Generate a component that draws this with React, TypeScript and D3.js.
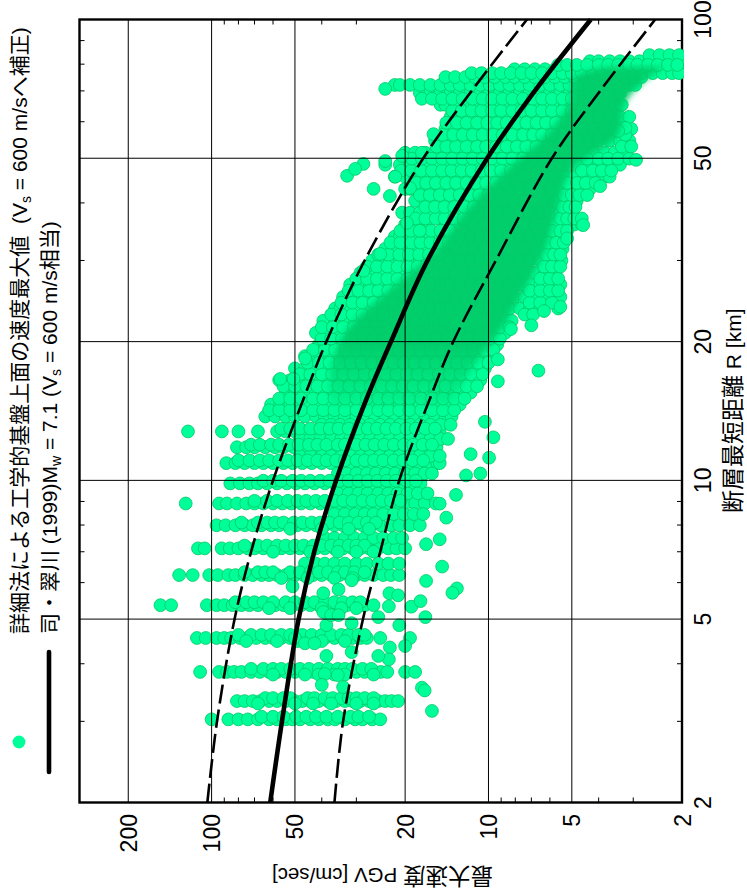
import React from "react";
import * as d3 from "d3";

// PGV attenuation scatter, the page is turned 90 degrees so R runs upward
const majorR = [2, 5, 10, 20, 50, 100];
const minorR = [3, 4, 6, 7, 8, 9, 30, 40, 60, 70, 80, 90];
const majorPgv = [2, 5, 10, 20, 50, 100, 200];
const minorPgv = [3, 4, 6, 7, 8, 9, 30, 40, 60, 70, 80, 90];

const curveR = [2, 3, 5, 7, 10, 15, 20, 30, 50, 70, 100];
const curveMid = [61.4, 55.7, 48.5, 42.6, 35.5, 27.6, 22.5, 16.6, 10.1, 6.8, 4.27];
const curveUp = [103.6, 95.6, 82.6, 72, 60, 46.6, 38.5, 28, 17.2, 11.5, 7.26];
const curveLow = [36, 33.5, 28.4, 24.6, 21, 16.3, 13.4, 9.4, 5.9, 3.95, 2.5];

// darker part of the cloud where the markers pile up
const coreR = [79, 75, 66, 56, 47, 38.5, 31.5, 26, 21, 17.3, 14.5];
const coreHigh = [3.65, 4.9, 5.1, 6.25, 8.7, 12.1, 15.6, 22.7, 32.9, 37.3, 37.3];
const coreLow = [2.3, 2.62, 3.2, 3.4, 5, 5.65, 6.25, 7.4, 9.1, 11.6, 13.7];

// each site row: distance, then the PGV values read along that row
const rowR = [
  3.03, 3.32, 3.84, 4.55, 5.36, 6.23, 7.12, 7.99, 8.91, 9.85, 10.9, 11.8, 12.77, 13.76,
  13.2, 12.3, 11.3, 10.35, 9.37, 8.45, 7.5, 6.6,
  14.6, 15.5, 16.5, 17.5, 18.6, 19.7, 20.9, 22.2, 23.6, 25, 26.6, 28.2, 30, 31.8, 33.8, 35.9,
  38.1, 40.4, 42.9, 45.6, 48.4, 51.4, 54.6, 57.9, 61.5, 65.3, 69.3, 72.1, 75, 78, 81.2, 83.7,
];
const rowPgv = [
  [100, 87, 80, 74, 68, 62, 58, 54, 51, 47.9, 44, 41, 38, 35.8, 33, 30.3, 28.5, 26.3, 24.6],
  [81, 76, 71, 66.7, 62, 58, 54, 50, 47, 44, 41, 38, 35.5, 33, 31, 29, 27, 25, 23.6, 22.4, 21.2],
  [110, 94, 88, 83, 78, 72, 67, 62, 58, 54, 50, 46.5, 43, 40, 37, 34.5, 32, 30, 28, 26, 24.5, 23.2, 20, 18.4],
  [113, 105, 96, 90, 85, 79, 74, 69, 64, 60, 56, 52, 48, 45, 42, 39, 36, 33.5, 31, 29, 27.5],
  [153, 140, 104, 96, 90, 84, 78, 73, 68, 63, 59, 55, 51, 47.5, 44, 41, 38, 35, 32.5, 30, 28, 26],
  [131, 117, 102, 95, 87, 82, 76, 71, 66, 62, 58, 54, 50, 46.5, 43, 40, 37, 34.5, 32, 30, 28, 26, 24, 22.5, 21],
  [112, 106, 92, 86, 80, 74, 70, 65, 60, 56, 52, 48, 45, 42, 39, 36, 33.5, 31, 29, 27, 25, 23, 21.5, 20],
  [96, 89, 82, 76, 71, 66, 61, 57, 53, 49, 45.5, 42, 39, 36, 33.5, 31, 28.5, 26.5, 24.5, 22.5, 21, 19.2, 17.7],
  [124, 94, 88, 81, 75, 70, 65, 60, 55.5, 51.5, 47.5, 44, 40.5, 37.5, 35, 32, 29.5, 27.5, 25.3, 23.4, 21.6, 20, 18.4, 17, 15.5],
  [85.6, 79, 73, 68, 63, 58, 53.5, 49.5, 46, 42.5, 39, 36, 33.3, 31, 28.5, 26.3, 24.3, 22.4, 20.7, 19, 17.6],
  [88.5, 82, 76, 70, 65, 60, 55, 51, 47, 43.5, 40, 37, 34, 31.5, 29, 27, 25, 23, 21, 19.5, 18, 16.5, 15.3, 15],
  [81, 75, 70, 64, 59, 55, 50.5, 46.5, 43, 40, 37, 34, 31.5, 29, 26.8, 24.8, 22.8, 21, 19.4, 18, 16.6, 15.4],
  [121.7, 91.8, 80, 68, 58, 54, 50, 46, 42.5, 39, 36, 33.5, 31, 28.5, 26.3, 24.3, 22.4, 20.7, 19, 17.6, 16.2, 15],
  [64, 59, 54, 50, 46, 42, 39, 36, 33, 30, 28, 25.7, 23.6, 21.8, 20, 18.4, 16.9, 15.6, 14.3, 13.6],
  [40, 37, 34.3, 31.6, 29.1, 26.8, 24.6, 22.7, 20.9, 19.2, 17.7, 16.2, 14.9, 13.7],
  [48, 44, 40.5, 37, 34, 31.6, 29, 26.8, 24.6, 22.7, 20.9, 19.2, 17.7, 16.2, 14.9, 14],
  [48, 44, 40, 37, 34, 31, 29, 26.8, 24.6, 22.7, 21, 19.2, 17.7, 16.2, 15],
  [35, 32.5, 30, 27.5, 25.5, 23.5, 21.7, 20, 18.4, 17, 16],
  [35, 32, 29.5, 27.3, 25, 23, 21.3, 19.6, 18, 16.6],
  [36, 33, 30.3, 28, 26, 24, 22, 20.2, 18.6, 17.2],
  [39, 36, 33, 30.5, 28, 26, 24, 22, 20.5],
  [46, 42, 39, 36, 33, 30, 27.5, 25, 23, 21],
  [61, 56.5, 52, 48, 44, 40.5, 37.3, 34.3, 31.6, 29.1, 26.8, 24.6, 22.7, 20.9, 19.2, 17.7, 16.2, 14.9, 13.7, 12.7],
  [54, 50, 46, 42, 39, 36, 33, 30.3, 28, 25.7, 23.6, 21.8, 20, 18.4, 16.9, 15.6, 14.3, 13.2, 12.1, 11.6],
  [57, 52, 48, 44, 40.5, 37.3, 34.3, 31.6, 29.1, 26.8, 24.6, 22.7, 20.9, 19.2, 17.7, 16.2, 14.9, 13.7, 12.7, 11.6, 10.7],
  [50, 46, 42, 39, 36, 33, 30.3, 28, 25.7, 23.6, 21.8, 20, 18.4, 16.9, 15.6, 14.3, 13.2, 12.1, 11.2, 10.3],
  [46, 42.5, 40.5, 37.3, 34.3, 31.6, 29.1, 26.8, 24.6, 22.7, 20.9, 19.2, 17.7, 16.2, 14.9, 13.7, 12.7, 11.6, 10.7, 9.9],
  [41, 38.9, 35.8, 32.9, 30.3, 27.9, 25.7, 23.6, 21.8, 20, 18.4, 16.9, 15.6, 14.3, 13.2, 12.1, 11.2, 10.3, 9.5, 9.3],
  [42, 37.3, 34.3, 31.6, 29.1, 26.8, 24.6, 22.7, 20.9, 19.2, 17.7, 16.2, 14.9, 13.7, 12.7, 11.6, 10.7, 9.9, 9.1, 8.7],
  [39.5, 35.8, 32.9, 30.3, 27.9, 25.7, 23.6, 21.8, 20, 18.4, 16.9, 15.6, 14.3, 13.2, 12.1, 11.2, 10.3, 9.5, 8.7, 8.25],
  [35.8, 34.3, 31.6, 29.1, 26.8, 24.6, 22.7, 20.9, 19.2, 17.7, 16.2, 14.9, 13.7, 12.7, 11.6, 10.7, 9.9, 9.1, 8.4, 7.7, 7.1, 6.5, 5.6],
  [33.5, 30.3, 27.9, 25.7, 23.6, 21.8, 20, 18.4, 16.9, 15.6, 14.3, 13.2, 12.1, 11.2, 10.3, 9.5, 8.7, 8.05, 7.4, 6.8, 6.25, 5.75, 5.5],
  [31.6, 29.1, 26.8, 24.6, 22.7, 20.9, 19.2, 17.7, 16.2, 14.9, 13.7, 12.7, 11.6, 10.7, 9.9, 9.1, 8.4, 7.7, 7.1, 6.5, 6, 5.5],
  [29, 27.9, 25.7, 23.6, 21.8, 20, 18.4, 16.9, 15.6, 14.3, 13.2, 12.1, 11.2, 10.3, 9.5, 8.7, 8.05, 7.4, 6.8, 6.25, 5.75],
  [26.3, 24.6, 22.7, 20.9, 19.2, 17.7, 16.2, 14.9, 13.7, 12.7, 11.6, 10.7, 9.9, 9.1, 8.4, 7.7, 7.1, 6.5, 6, 5.5, 5.45],
  [23.6, 21.8, 20, 18.4, 16.9, 15.6, 14.3, 13.2, 12.1, 11.2, 10.3, 9.5, 8.7, 8.05, 7.4, 6.8, 6.25, 5.75, 5.4],
  [21.8, 20.9, 19.2, 17.7, 16.2, 14.9, 13.7, 12.7, 11.6, 10.7, 9.9, 9.1, 8.4, 7.7, 7.1, 6.5, 6, 5.5, 5.3],
  [20, 18.4, 16.9, 14.3, 13.2, 12.1, 11.2, 10.3, 9.5, 8.7, 8.05, 7.4, 6.8, 6.25, 5.75, 5.3, 4.9, 4.6],
  [20.5, 19.2, 17.7, 16.2, 14.9, 13.7, 12.7, 11.6, 10.7, 9.9, 9.1, 8.4, 7.7, 7.1, 6.5, 6, 5.5],
  [18.4, 16.9, 15.6, 14.3, 13.2, 12.1, 11.2, 10.3, 9.5, 8.7, 8.05, 7.4, 6.8, 6.25, 5.75, 5.3, 4.9, 4.8],
  [20, 19.2, 17.7, 16.2, 14.9, 13.7, 12.7, 11.6, 10.7, 9.9, 9.1, 8.4, 7.7, 7.1, 6.5, 6, 5.5, 5.1, 4.7, 4.3],
  [21.8, 20, 18.4, 16.9, 15.6, 14.3, 13.2, 12.1, 11.2, 10.3, 9.5, 8.7, 8.05, 7.4, 6.8, 6.25, 5.75, 5.3, 4.9, 4.5, 4.15, 3.8, 3.65],
  [23.6, 20.9, 19.2, 17.7, 16.2, 14.9, 13.7, 12.7, 11.6, 10.7, 9.9, 9.1, 8.4, 7.7, 7.1, 6.5, 6, 5.5, 5.1, 4.7, 4.3, 4, 3.65, 3.35],
  [20, 18.4, 16.9, 15.6, 14.3, 13.2, 12.1, 11.2, 10.3, 9.5, 8.7, 8.05, 7.4, 6.8, 6.25, 5.75, 5.3, 4.9, 4.5, 4.15, 3.8, 3.5, 3.2],
  [15.6, 14.9, 13.7, 12.7, 11.6, 10.7, 9.9, 9.1, 8.4, 7.7, 7.1, 6.5, 6, 5.5, 5.1, 4.7, 4.3, 4, 3.65, 3.35, 3.1],
  [14.3, 13.2, 12.1, 11.2, 10.3, 9.5, 8.7, 8.05, 7.4, 6.8, 6.25, 5.75, 5.3, 4.9, 4.5, 4.15, 3.8, 3.5, 3.2, 3.05],
  [13.7, 12.7, 11.6, 10.7, 9.9, 9.1, 8.4, 7.7, 7.1, 6.5, 6, 5.5, 5.1, 4.7, 4.3, 4, 3.65, 3.35, 3.1],
  [14.9, 14.3, 13.2, 12.1, 11.2, 10.3, 9.5, 8.7, 8.05, 7.4, 6.8, 6.25, 5.75, 5.3, 4.9, 4.5, 4.15, 3.8, 3.5, 3.3],
  [17.7, 16.2, 14.9, 13.7, 12.7, 11.6, 10.7, 9.9, 9.1, 8.4, 7.7, 7.1, 6.5, 6, 5.5, 5.1, 4.7, 4.3, 4, 3.65, 3.35],
  [21.8, 20.9, 19.2, 17.7, 16.2, 14.9, 13.7, 12.7, 11.6, 10.7, 9.9, 9.1, 8.4, 7.7, 7.1, 6.5, 6, 5.5, 5.1, 4.7, 4.3, 4, 3.65, 3.35, 3.1, 2.95],
  [14.3, 13.2, 12.1, 11.2, 10.3, 9.5, 8.7, 8.05, 7.4, 6.8, 6.25, 5.75, 5.3, 4.9, 4.5, 4.15, 3.8, 3.5, 3.2, 2.97, 2.8],
  [8.05, 7.4, 6.8, 6.25, 5.75, 5.3, 4.9, 4.5, 4.15, 3.8, 3.5, 3.2, 2.97, 2.73, 2.5, 2.3, 2.13, 2],
  [4.3, 4, 3.65, 3.35, 3.1, 2.85, 2.62, 2.41, 2.22, 2.05],
  [2.62, 2.41, 2.22, 2.05],
];

const midR = [
  14.2, 15.05, 16, 17, 18, 19.2, 20.3, 21.5, 22.9, 24.3, 25.8, 27.4, 29.1, 30.9, 32.8, 34.8, 37, 39.2,
  41.6, 44.2, 47, 49.9, 53, 56.2, 59.7, 63.4, 67.3, 76.5, 79.7,
];
const midPgv = [
  [62, 57, 52, 47.5, 43, 39.5, 36, 33, 30, 27.5, 25, 23, 21, 19.3, 17.5, 16, 14.6, 13.3],
  [57, 52, 47.5, 43, 39.5, 36, 33, 30, 27.5, 25, 23, 21, 19.3, 17.5, 16, 14.6, 13.3, 12.2],
  [55, 50, 45.5, 41.5, 38, 34.8, 31.8, 29, 26.6, 24.3, 22.3, 20.4, 18.7, 17.1, 15.6, 14.3, 13, 12, 11],
  [48, 44, 40, 36.7, 33.5, 30.7, 28, 25.7, 23.5, 21.5, 19.7, 18, 16.5, 15.1, 13.8, 12.6, 11.6, 10.5],
  [45, 41, 37.5, 34.3, 31.4, 28.7, 26.3, 24, 22, 20.2, 18.5, 16.9, 15.5, 14.2, 13, 11.9, 10.9, 10],
  [43, 39, 35.8, 32.8, 30, 27.5, 25.2, 23, 21, 19.3, 17.7, 16.2, 14.8, 13.6, 12.4, 11.4, 10.4, 9.6],
  [40, 37, 33.8, 31, 28.3, 26, 23.8, 21.8, 20, 18.3, 16.8, 15.4, 14.1, 12.9, 11.8, 10.8, 9.9, 9.1],
  [40, 36.5, 33.5, 30.6, 9.1, 8.4],
  [37, 34, 31, 28.5, 26, 24, 7.4, 6.9],
  [34, 31, 28.5, 26, 24, 22, 7.1, 6.5, 5.9],
  [32, 29.5, 27, 25, 23, 21.2, 7.1, 6.5, 6, 5.6],
  [30, 27.5, 25.3, 23.2, 21.3, 19.6, 18, 6.5, 6, 5.6],
  [27.5, 25.3, 23.2, 21.3, 19.6, 18, 16.7, 6.3, 5.9, 5.5],
  [25, 23, 21, 19.4, 17.8, 16.4, 15.2, 6.2, 5.8, 5.5],
  [22.6, 20.8, 19, 17.6, 16.2, 15, 13.9, 6.1, 5.7, 5.35],
  [20.8, 19.1, 17.6, 16.1, 14.9, 13.8, 5.9, 5.5, 5.2],
  [18.3, 16.9, 15.5, 14.4, 13.3, 12.3, 5.5, 5.2, 4.9, 4.6],
  [16.9, 15.6, 14.4, 13.3, 12.2, 11.3, 5.4, 5.1, 4.85],
  [17.7, 16.3, 15, 13.8, 12.7, 11.7, 10.8, 10, 5.35, 5, 4.7, 4.4],
  [18.2, 16.8, 15.5, 14.2, 13.1, 12, 11.1, 10.2, 9.4, 8.7, 5.2, 4.8, 4.45, 4.1],
  [20.7, 19, 17.5, 16, 14.7, 13.6, 12.5, 11.5, 10.6, 9.8, 9, 8.3, 4.6, 4.2, 3.9, 3.6],
  [18.9, 17.4, 16, 14.7, 13.5, 12.4, 11.4, 10.5, 9.7, 8.9, 8.2, 7.5, 6.9, 6.3, 4.4, 4, 3.7, 3.4, 3.1],
  [15.4, 14.2, 13.1, 12, 11, 10.2, 9.4, 8.6, 7.9, 7.3, 6.7, 6.1, 3.3, 3.05],
  [14.6, 13.4, 12.4, 11.4, 10.5, 9.6, 8.9, 8.2, 7.5, 6.9, 6.4, 5.9, 3.2],
  [14.2, 13, 12, 11, 10.1, 9.3, 8.6, 7.9, 7.3, 6.7, 6.2, 5.7, 5.2],
  [13.5, 12.5, 11.5, 10.6, 9.7, 9, 8.2, 7.6, 7, 6.4, 5.9, 5.4, 5, 4.6],
  [17.4, 16, 14.7, 13.5, 12.4, 11.4, 10.5, 9.7, 8.9, 8.2, 7.5, 6.9, 6.4, 5.9, 5.4, 5],
  [11.5, 10.6, 9.7, 9, 8.3, 7.6, 7, 6.4, 5.9, 5.4, 5, 4.6, 4.2, 3.9, 3.6, 3.3, 3, 2.8, 2.55, 2.35, 2.17, 2.05],
  [5.6, 5.2, 4.8, 4.4, 4, 3.7, 3.4, 3.1, 2.9, 2.65, 2.45, 2.25, 2.08],
];

// sites that crowd a row just above or below it
const clumpR = [
  3.07, 3.37, 3.28, 3.9, 3.79, 4.62, 4.48, 5.44, 5.28, 6.32, 6.14, 7.22, 7, 8.1, 7.85, 9.03, 9.98, 11.05, 11.95, 12.95,
];
const clumpPgv = [
  [66, 60, 55, 49.5, 45.5, 42, 38.5, 35, 31.5, 29.5, 27],
  [64, 60, 55, 52, 45, 42.5, 39, 36.5, 34, 32, 30, 28, 26],
  [68, 50, 43, 37, 30, 26],
  [72, 65, 60, 56, 52, 48, 44.5, 41, 38, 35, 33, 31, 28.5, 26.5],
  [60, 46, 41, 36, 33, 26],
  [80, 72, 66, 61, 56, 52, 47, 43.5, 40, 37, 34, 32, 29.5, 28],
  [75, 58, 49, 40, 33],
  [82, 75, 70, 65, 60, 54, 50, 46, 42.5, 39, 36, 33.5, 31, 29],
  [62, 52, 40, 34, 30],
  [76, 68, 64, 60, 52, 48, 44, 41, 38, 35, 33, 30.5, 28],
  [56, 45, 36, 31],
  [76, 68, 63, 58, 54, 50, 46.5, 43, 40, 37, 34.5, 32, 30, 28],
  [60, 44, 35, 30, 26],
  [78, 68, 63, 59, 55, 50.5, 47, 43.5, 40.5, 37.5, 34.5, 32, 29.5, 27.5, 25.5],
  [52, 40, 32, 27],
  [70, 63, 58, 53, 49, 45.5, 42, 39, 36, 33.5, 31, 28.5, 26.3, 24.3, 22.5, 20.8],
  [65, 60, 56, 51, 47.5, 44, 40.5, 37.5, 34.5, 32, 29.5, 27.3, 25.2, 23.3, 21.6, 19.8, 18.3],
  [80, 73, 67, 62, 57, 53, 49, 45, 41.5, 38.5, 35.5, 33, 30, 28, 25.9, 24, 22, 20.3, 18.8, 17.2],
  [72, 67, 61, 57, 52.5, 48.5, 44.5, 41.5, 38.5, 35, 33, 30, 27.8, 25.8, 23.8, 22, 20.2, 18.7, 17.3, 16],
  [56, 52, 48, 44, 40.5, 37.5, 34.8, 32, 29.5, 27.3, 25.3, 23.4, 21.6, 19.8, 18.3, 16.9, 15.6],
];

// stragglers off the main rows
const scatterR = [
  10.25, 10.35, 11.2, 11.4, 12.4, 13.4, 17.3, 16.4, 18.3, 9.3, 8.9, 8.3, 7.45, 7.27, 6.5, 6.05, 5.83, 5.7,
  3.55, 3.5, 3.16, 5.05, 5.32, 5.47, 4.85, 4.55, 4.37, 4.34, 4.55, 4.09, 4.16, 4.24, 4.16, 5.69, 5.63, 5.33,
  5.05, 6.07, 5.8, 5.89, 5.69, 3.8, 3.78, 3.6, 3.56, 4.85, 4.9, 5.18, 5.1, 5.1, 4.55, 4.43, 4.43,
  45.8, 48.6, 47.4, 42.9, 41.4, 49.3, 50.6, 51.4, 45.6, 43.1, 56.4, 34.8, 36.2, 31, 28.5, 18.4, 16.6, 16.6,
  23.8, 23.3, 21.7, 21.3, 35.8, 43.5, 49.6, 58.2, 57.3, 33.5, 70.7,
];
const scatterPgv = [
  12.05, 10.7, 9.95, 11.6, 9.6, 10.3, 6.6, 9.25, 9.25, 13.1, 15, 14.2, 15, 16.8, 14.7, 16.8, 13, 13.5,
  17.4, 17, 16, 16.9, 19, 17.6, 21, 19.2, 20, 22.7, 24.6, 22.9, 25, 31.2, 38.5, 22.8, 21.2, 22.9,
  25, 31.2, 34.8, 51, 39.5, 39, 35, 40, 33.5, 38.5, 31.2, 39.5, 37, 34.8, 50, 46, 42.5,
  32.4, 28.3, 30.3, 26, 22.7, 23.6, 20.5, 17.4, 21.7, 19.2, 15.8, 17.7, 19.7, 24.6, 28.3, 45.9, 56.5, 50.6,
  5.5, 6.3, 7, 8.3, 4.55, 3.95, 2.93, 3.2, 3.4, 5.2, 23.6,
];

const rTicks = ["2", "5", "10", "20", "50", "100"];
const pgvTicks = ["2", "5", "10", "20", "50", "100", "200"];

const W = 747;
const H = 888;
const sans = '"Liberation Sans","Noto Sans CJK JP",sans-serif';
const green = "#00ff99";
const greenEdge = "#00c864";

const App = () => {
  const x = d3.scaleLog().domain([2, 300]).range([682, 79.5]);
  const y = d3.scaleLog().domain([2, 100]).range([802.5, 19.5]);

  const flatten = (rs: number[], vals: number[][]) => rs.flatMap((r, i) => vals[i].map((p) => ({ r, p })));
  const points = [
    ...flatten(rowR, rowPgv),
    ...flatten(midR, midPgv),
    ...flatten(clumpR, clumpPgv),
    ...scatterR.map((r, i) => ({ r, p: scatterPgv[i] })),
  ];

  const curve = (vals: number[]) =>
    d3
      .line<number>()
      .x((d) => x(d))
      .y((_, i) => y(curveR[i]))
      .curve(d3.curveCatmullRom)(vals) as string;

  const core = d3
    .area<number>()
    .y((r) => y(r))
    .x0((_, i) => x(coreHigh[i]))
    .x1((_, i) => x(coreLow[i]))
    .curve(d3.curveCatmullRom)(coreR) as string;

  const rot = (px: number, py: number) => `translate(${px},${py}) rotate(-90)`;
  const [x0, x1] = [x(300), x(2)];
  const [y0, y1] = [y(2), y(100)];

  return (
    <svg width={W} height={H} style={{ position: "absolute", left: 0, top: 0 }} fontFamily={sans} fill="#000">
      <defs>
        <clipPath id="plot">
          <rect x={0} y={0} width={684} height={H} />
        </clipPath>
        <filter id="soft" x="-20%" y="-20%" width="140%" height="140%">
          <feGaussianBlur stdDeviation="3" />
        </filter>
        <linearGradient id="fade" gradientUnits="userSpaceOnUse" x1={0} x2={0} y1={y(79)} y2={y(14.5)}>
          <stop offset="0" stopColor="#00cc69" stopOpacity={0.95} />
          <stop offset="0.82" stopColor="#00cc69" stopOpacity={0.95} />
          <stop offset="1" stopColor="#00cc69" stopOpacity={0.2} />
        </linearGradient>
      </defs>

      <rect x={x0} y={y1} width={x1 - x0} height={y0 - y1} fill="none" stroke="#000" strokeWidth={2.4} />
      {minorR.map((r) => (
        <g key={r} stroke="#000" strokeWidth={1}>
          <line x1={x0} x2={x0 + 5} y1={y(r)} y2={y(r)} />
          <line x1={x1} x2={x1 - 5} y1={y(r)} y2={y(r)} />
        </g>
      ))}
      {minorPgv.map((p) => (
        <g key={p} stroke="#000" strokeWidth={1}>
          <line x1={x(p)} x2={x(p)} y1={y0} y2={y0 - 5} />
          <line x1={x(p)} x2={x(p)} y1={y1} y2={y1 + 5} />
        </g>
      ))}

      <g clipPath="url(#plot)">
        {points.map((d, i) => (
          <circle key={i} cx={x(d.p)} cy={y(d.r)} r={6.4} fill={green} stroke={greenEdge} strokeWidth={0.8} />
        ))}
      </g>
      <path d={core} fill="url(#fade)" filter="url(#soft)" />

      {majorR.slice(1, -1).map((r) => (
        <line key={r} x1={x0} x2={x1} y1={y(r)} y2={y(r)} stroke="#000" strokeWidth={1} />
      ))}
      {majorPgv.slice(1).map((p) => (
        <line key={p} x1={x(p)} x2={x(p)} y1={y0} y2={y1} stroke="#000" strokeWidth={1} />
      ))}

      <path d={curve(curveMid)} fill="none" stroke="#000" strokeWidth={4.6} />
      <path d={curve(curveUp)} fill="none" stroke="#000" strokeWidth={2.6} strokeDasharray="19 6" />
      <path d={curve(curveLow)} fill="none" stroke="#000" strokeWidth={2.6} strokeDasharray="19 6" />

      {/* tick labels */}
      {majorPgv.map((p, i) => (
        <text key={p} transform={rot(x(p) + 8.5, 814)} textAnchor="end" fontSize={23}>
          {pgvTicks[i]}
        </text>
      ))}
      {majorR.map((r, i) => (
        <text key={r} transform={rot(711, Math.max(y(r), 17))} textAnchor="middle" fontSize={23}>
          {rTicks[i]}
        </text>
      ))}

      {/* axis titles */}
      <text transform={rot(741, 513)} fontSize={23}>
        断層最短距離<tspan fontSize={21}> R [km]</tspan>
      </text>
      <text transform="translate(493,868) rotate(180)" fontSize={22.5}>
        最大速度<tspan fontSize={20.5}> PGV [cm/sec]</tspan>
      </text>

      {/* legend */}
      <circle cx={19} cy={742} r={6.4} fill={green} />
      <line x1={49} x2={49} y1={652} y2={772} stroke="#000" strokeWidth={4.6} strokeLinecap="round" />
      <text transform={rot(27, 634)} fontSize={21}>
        詳細法による工学的基盤上面の速度最大値
      </text>
      <text transform={rot(27, 224)} fontSize={21}>
        (V<tspan fontSize={14} dy={4}>s</tspan>
        <tspan dy={-4}> = 600 m/sへ補正)</tspan>
      </text>
      <text transform={rot(57, 634)} fontSize={21}>
        司・翠川 (1999)M<tspan fontSize={14} dy={4}>w</tspan>
        <tspan dy={-4}> = 7.1 (V</tspan>
        <tspan fontSize={14} dy={4}>s</tspan>
        <tspan dy={-4}> = 600 m/s相当)</tspan>
      </text>
    </svg>
  );
};

export default App;
